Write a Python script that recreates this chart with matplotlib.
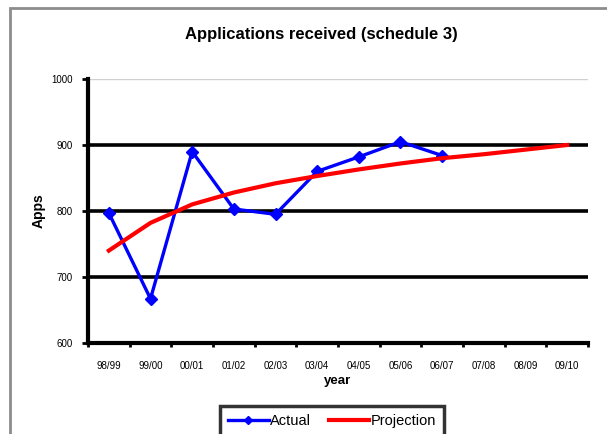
import matplotlib
matplotlib.use("Agg")
import matplotlib.pyplot as plt
from matplotlib.patches import Rectangle

plt.rcParams['font.family'] = ['Liberation Sans', 'DejaVu Sans']

years = ["98/99", "99/00", "00/01", "01/02", "02/03", "03/04", "04/05",
         "05/06", "06/07", "07/08", "08/09", "09/10"]
actual = [797, 667, 890, 803, 795, 860, 882, 905, 884]
projection = [740, 782, 810, 828, 842, 853, 863, 872, 880, 886, 893, 900]
yticks = [600, 700, 800, 900, 1000]

W, H = 607, 434
fig = plt.figure(figsize=(W / 100, H / 100), dpi=100)

# outer chart frame (extends beyond the image on right/bottom)
fig.patches.append(Rectangle((10 / W, -0.1), 1.2, 1 - 8 / H + 0.1,
                             transform=fig.transFigure, fill=False,
                             edgecolor='#8c8c8c', linewidth=2.0))

ax = fig.add_axes([88 / W, (H - 343) / H, (588 - 88) / W, (343 - 79) / H])

x_act = list(range(len(actual)))
x_proj = list(range(len(projection)))

ax.set_ylim(600, 1000)
ax.set_xlim(-0.5, len(years) - 0.5)

# gridlines
for v in yticks[1:-1]:
    ax.axhline(v, color='black', linewidth=2.6, zorder=1)
ax.axhline(1000, color='#d0d0d0', linewidth=1.0, zorder=1)

ax.plot(x_act, actual, color='#0000FF', linewidth=2.4, marker='D',
        markersize=6.5, label='Actual', zorder=3)
ax.plot(x_proj, projection, color='#FF0000', linewidth=3.0,
        label='Projection', zorder=4)

for s in ['top', 'right']:
    ax.spines[s].set_visible(False)
ax.spines['left'].set_linewidth(3)
ax.spines['bottom'].set_linewidth(3)

ax.set_yticks(yticks)
ax.set_yticklabels([str(v) for v in yticks], fontsize=7)
ax.tick_params(axis='y', length=4, width=2, pad=7)

ax.set_xticks(x_proj)
ax.set_xticklabels(years, fontsize=7)
ax.tick_params(axis='x', which='major', length=0, pad=13)
ax.set_xticks([i - 0.5 for i in range(len(years) + 1)], minor=True)
ax.tick_params(axis='x', which='minor', length=3, width=2)

ax.set_xlabel('year', fontsize=9.5, fontweight='bold', labelpad=3)
ax.set_ylabel('Apps', fontsize=10, fontweight='bold', labelpad=4)

fig.text(321 / W, 1 - 35 / H, 'Applications received (schedule 3)',
         ha='center', va='center', fontsize=12, fontweight='bold')

leg = fig.legend(loc='upper center', bbox_to_anchor=(332 / W, 1 - 406 / H),
                 ncol=2, fontsize=10.5, frameon=True, fancybox=False,
                 handlelength=2.8, handletextpad=0.1, columnspacing=1.2,
                 borderpad=0.55, borderaxespad=0.0, edgecolor='black')
leg.get_frame().set_linewidth(2.5)
leg.legend_handles[0].set_markersize(4.5)

fig.savefig('out.png', dpi=100)
